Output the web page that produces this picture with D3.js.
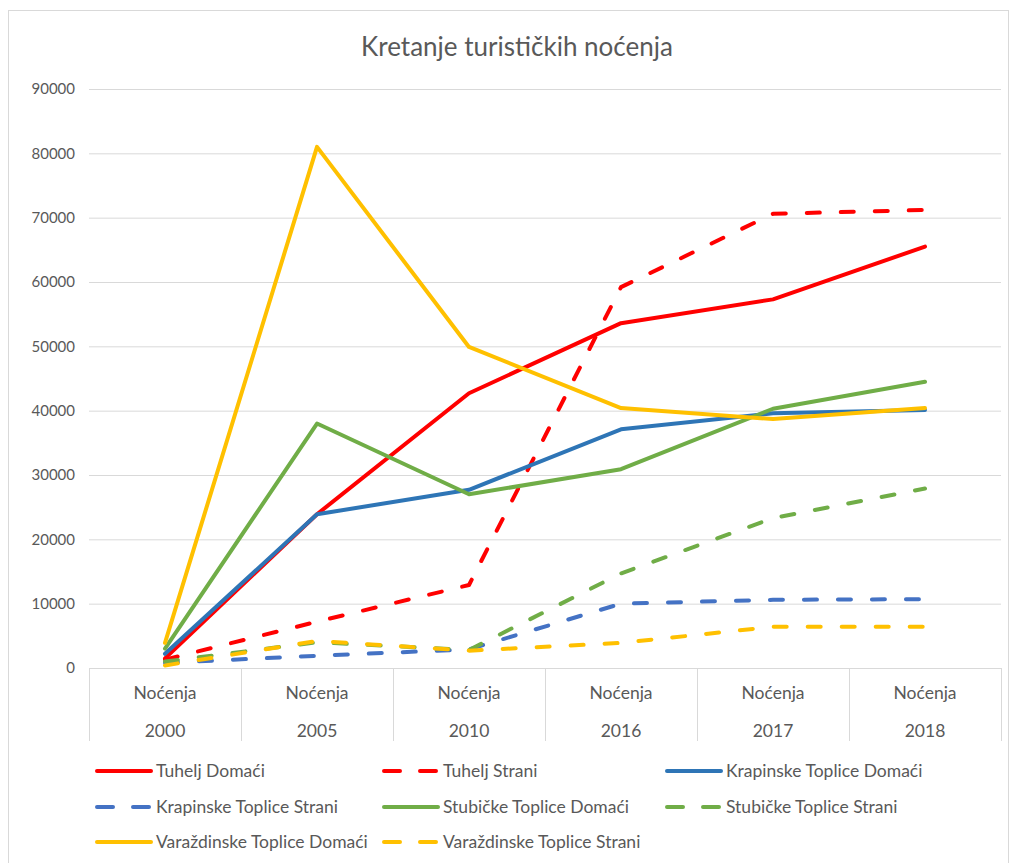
<!DOCTYPE html>
<html>
<head>
<meta charset="utf-8">
<script src="https://cdn.jsdelivr.net/npm/d3@7"></script>
<style>
  body { margin: 0; background: #fff; }
  text { font-family: Lato, "Open Sans", sans-serif; fill: #595959; }
</style>
</head>
<body>
<div id="chart"></div>
<script>
// Data
const years = ["2000", "2005", "2010", "2016", "2017", "2018"];
const groupLabel = "Noćenja";
const yTicks = [0, 10000, 20000, 30000, 40000, 50000, 60000, 70000, 80000, 90000];

const tuheljDomaci = [1500, 23900, 42700, 53600, 57300, 65500];
const tuheljStrani = [1300, 7200, 12900, 59200, 70600, 71200];
const krapinskeDomaci = [2200, 23900, 27700, 37100, 39600, 40100];
const krapinskeStrani = [800, 1900, 2900, 10000, 10600, 10700];
const stubickeDomaci = [3000, 38000, 27000, 30900, 40300, 44500];
const stubickeStrani = [1000, 4000, 2800, 14700, 23300, 27900];
const varazdinskeDomaci = [3900, 81000, 49900, 40400, 38700, 40400];
const varazdinskeStrani = [400, 4200, 2700, 3900, 6400, 6400];

const series = [
  { name: "Tuhelj Domaći", values: tuheljDomaci, color: "#ff0000", dashed: false },
  { name: "Tuhelj Strani", values: tuheljStrani, color: "#ff0000", dashed: true },
  { name: "Krapinske Toplice Domaći", values: krapinskeDomaci, color: "#2e75b6", dashed: false },
  { name: "Krapinske Toplice Strani", values: krapinskeStrani, color: "#4472c4", dashed: true },
  { name: "Stubičke Toplice Domaći", values: stubickeDomaci, color: "#70ad47", dashed: false },
  { name: "Stubičke Toplice Strani", values: stubickeStrani, color: "#70ad47", dashed: true },
  { name: "Varaždinske Toplice Domaći", values: varazdinskeDomaci, color: "#ffc000", dashed: false },
  { name: "Varaždinske Toplice Strani", values: varazdinskeStrani, color: "#ffc000", dashed: true },
];

// Layout
const width = 1012;
const height = 863;
const plot = { left: 89, right: 1001, top: 89, bottom: 668 };
const gridColor = "#d9d9d9";

const svg = d3.select("#chart").append("svg")
  .attr("width", width)
  .attr("height", height);

// Chart border
svg.append("rect")
  .attr("x", 8.5).attr("y", 10.5)
  .attr("width", 1000).attr("height", 860)
  .attr("fill", "none")
  .attr("stroke", gridColor);

// Title
svg.append("text")
  .attr("x", 517).attr("y", 56)
  .attr("text-anchor", "middle")
  .style("font-size", "26px")
  .text("Kretanje turističkih noćenja");

// Scales
const x = d3.scaleBand().domain(years).range([plot.left, plot.right]);
const y = d3.scaleLinear().domain([0, 90000]).range([plot.bottom, plot.top]);

// Gridlines + y labels
const yAxis = svg.append("g")
  .attr("transform", `translate(${plot.left},0)`)
  .call(d3.axisLeft(y).tickValues(yTicks).tickSize(-(plot.right - plot.left)).tickPadding(14).tickFormat(d3.format("d")));
yAxis.select(".domain").remove();
yAxis.selectAll(".tick line").attr("stroke", gridColor).attr("stroke-width", 1);
yAxis.selectAll(".tick text").style("font-size", "15px").attr("fill", "#595959");

// Category axis (two-level)
const catAxis = svg.append("g");
catAxis.append("line")
  .attr("x1", plot.left).attr("x2", plot.right)
  .attr("y1", plot.bottom + 0.5).attr("y2", plot.bottom + 0.5)
  .attr("stroke", gridColor);
catAxis.selectAll(".sep")
  .data(years.concat(["end"]))
  .enter().append("line")
  .attr("x1", (d, i) => Math.round(plot.left + i * x.bandwidth()) + 0.5)
  .attr("x2", (d, i) => Math.round(plot.left + i * x.bandwidth()) + 0.5)
  .attr("y1", plot.bottom)
  .attr("y2", 741)
  .attr("stroke", gridColor);
catAxis.selectAll(".lvl1")
  .data(years).enter().append("text")
  .attr("x", (d) => x(d) + x.bandwidth() / 2)
  .attr("y", 699)
  .attr("text-anchor", "middle")
  .style("font-size", "17.5px")
  .text(groupLabel);
catAxis.selectAll(".lvl2")
  .data(years).enter().append("text")
  .attr("x", (d) => x(d) + x.bandwidth() / 2)
  .attr("y", 737)
  .attr("text-anchor", "middle")
  .style("font-size", "17.5px")
  .text((d) => d);

// Lines
const line = d3.line()
  .x((d, i) => x(years[i]) + x.bandwidth() / 2)
  .y((d) => y(d));

svg.append("g").selectAll("path")
  .data(series)
  .enter().append("path")
  .attr("d", (d) => line(d.values))
  .attr("fill", "none")
  .attr("stroke", (d) => d.color)
  .attr("stroke-width", 4)
  .attr("stroke-linejoin", "round")
  .attr("stroke-linecap", "round")
  .attr("stroke-dasharray", (d) => (d.dashed ? "13,21" : null));

// Legend
const legendCols = [95, 382, 665];
const legendRows = [771, 807, 842];
const legend = svg.append("g").selectAll("g")
  .data(series)
  .enter().append("g")
  .attr("transform", (d, i) => `translate(${legendCols[i % 3]},${legendRows[Math.floor(i / 3)]})`);

legend.append("line")
  .attr("x1", 2).attr("x2", 56)
  .attr("stroke", (d) => d.color)
  .attr("stroke-width", 4)
  .attr("stroke-linecap", "round")
  .attr("stroke-dasharray", (d) => (d.dashed ? "16,20" : null));

legend.append("text")
  .attr("x", 61)
  .attr("dy", "0.35em")
  .style("font-size", "17.5px")
  .text((d) => d.name);
</script>
</body>
</html>
